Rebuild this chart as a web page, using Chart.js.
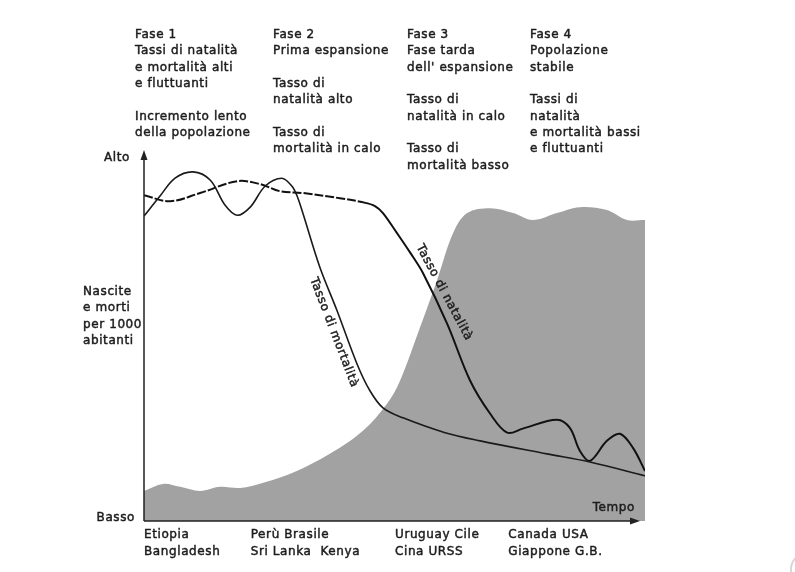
<!DOCTYPE html>
<html>
<head>
<meta charset="utf-8">
<script src="https://cdn.jsdelivr.net/npm/chart.js@4/dist/chart.umd.min.js"></script>
<style>
html,body{margin:0;padding:0;background:#fff;}
#wrap{width:795px;height:572px;position:relative;}
</style>
</head>
<body>
<div id="wrap"><canvas id="c" width="795" height="572"></canvas></div>
<script>
// ---- Data (time on 0..100, rate/population on 0..100 = Basso..Alto) ----
const deathX    = [0, 3.2, 6.2, 9.8, 13.2, 16.2, 18.6, 21.2, 24.2, 27.5, 29.5, 30.5, 31.7, 35.1, 38.5, 42.5, 45.1, 47.7, 51.7, 60.1, 67.1, 80.4, 89.0, 100];
const deathRate = [82.2, 87.6, 92.4, 94.1, 91.9, 85.1, 82.4, 84.6, 90.3, 92.4, 90.3, 87.8, 83.0, 68.4, 56.8, 42.4, 35.1, 30.5, 27.8, 23.8, 21.6, 18.1, 15.9, 12.2];

const birthX    = [0, 5.2, 11.2, 18.6, 23.2, 27.1, 31.7, 39.1, 43.7, 46.1, 47.7, 50.5, 53.1, 55.7, 60.5, 65.1, 69.1, 72.5, 75.6, 82.4, 85.0, 87.0, 89.0, 92.4, 95.0, 97.6, 100];
const birthRate = [87.8, 86.2, 88.4, 91.6, 90.8, 88.9, 88.4, 87.0, 85.9, 84.9, 83.0, 77.6, 72.4, 66.8, 53.2, 37.8, 28.9, 23.8, 24.9, 27.3, 25.1, 18.9, 16.2, 21.6, 23.5, 19.7, 13.5];

const popX      = [0, 3.8, 7.2, 11.2, 15.2, 19.2, 23.8, 30.5, 37.1, 43.7, 48.5, 51.1, 55.1, 58.5, 61.7, 64.5, 69.1, 73.7, 77.6, 82.4, 87.0, 92.4, 96.4, 100];
const population= [8.1, 10.0, 9.2, 8.1, 9.2, 8.9, 10.3, 13.5, 18.1, 24.3, 31.6, 37.8, 52.2, 64.9, 77.6, 83.0, 84.3, 83.0, 81.1, 83.0, 84.6, 83.8, 81.1, 81.1];

const phaseTexts = [
  ["Fase 1", "Tassi di natalità", "e mortalità alti", "e fluttuanti", "", "Incremento lento", "della popolazione"],
  ["Fase 2", "Prima espansione", "", "Tasso di", "natalità alto", "", "Tasso di", "mortalità in calo"],
  ["Fase 3", "Fase tarda", "dell' espansione", "", "Tasso di", "natalità in calo", "", "Tasso di", "mortalità basso"],
  ["Fase 4", "Popolazione", "stabile", "", "Tassi di", "natalità", "e mortalità bassi", "e fluttuanti"]
];
const countryGroups = [
  ["Etiopia", "Bangladesh"],
  ["Perù Brasile", "Sri Lanka  Kenya"],
  ["Uruguay Cile", "Cina URSS"],
  ["Canada USA", "Giappone G.B."]
];
const countryX = [0, 21.3, 50.1, 72.7];
const yAxisLabel = ["Nascite", "e morti", "per 1000", "abitanti"];
const highLabel = "Alto", lowLabel = "Basso", timeLabel = "Tempo";
const deathLabel = "Tasso di mortalità", birthLabel = "Tasso di natalità";

const zip = (xs, ys) => xs.map((x, i) => ({x, y: ys[i]}));

const FONT = '12px "DejaVu Sans"';
const INK = '#1c1c1c';

function txt(ctx, s, x, y, align) {
  ctx.textAlign = align || 'left';
  ctx.fillText(s, x, y);
  ctx.strokeText(s, x, y);
}

const overlay = {
  id: 'overlay',
  afterDatasetsDraw(chart) {
    const ctx = chart.ctx;
    const xs = chart.scales.x, ys = chart.scales.y;
    const ca = chart.chartArea;
    const x0 = xs.getPixelForValue(0);
    const y0 = ys.getPixelForValue(0);
    ctx.save();
    // axes
    ctx.strokeStyle = '#222';
    ctx.fillStyle = '#222';
    ctx.lineWidth = 1.5;
    ctx.beginPath();
    ctx.moveTo(x0, y0); ctx.lineTo(x0, ca.top + 8);
    ctx.moveTo(x0, y0); ctx.lineTo(ca.right - 12, y0);
    ctx.stroke();
    ctx.beginPath();
    ctx.moveTo(x0, ca.top); ctx.lineTo(x0 - 3.5, ca.top + 10); ctx.lineTo(x0 + 3.5, ca.top + 10); ctx.closePath();
    ctx.fill();
    ctx.beginPath();
    ctx.moveTo(ca.right - 5, y0); ctx.lineTo(ca.right - 15, y0 - 3.5); ctx.lineTo(ca.right - 15, y0 + 3.5); ctx.closePath();
    ctx.fill();

    ctx.fillStyle = INK;
    ctx.strokeStyle = INK;
    ctx.lineWidth = 0.45;
    ctx.font = FONT;
    ctx.textBaseline = 'middle';
    try { ctx.letterSpacing = '0.6px'; } catch (e) {}

    // phase texts
    const phaseLeft = [135, 273, 407, 530];
    const lh = 16.3;
    phaseTexts.forEach((lines, i) => {
      lines.forEach((s, j) => { if (s) txt(ctx, s, phaseLeft[i], 35 + j * lh); });
    });

    // left labels
    txt(ctx, highLabel, x0 - 14, ca.top + 8, 'right');
    txt(ctx, lowLabel, x0 - 9, y0 - 3, 'right');
    yAxisLabel.forEach((s, j) => txt(ctx, s, 83, 292 + j * 16.3));

    // time label
    txt(ctx, timeLabel, ca.right - 10, y0 - 13, 'right');

    // country groups
    countryGroups.forEach((g, i) => {
      const px = xs.getPixelForValue(countryX[i]);
      g.forEach((s, j) => txt(ctx, s, px, y0 + 14 + j * 17));
    });

    // rotated line labels
    const rot = (s, vx, vy, deg) => {
      ctx.save();
      ctx.translate(xs.getPixelForValue(vx), ys.getPixelForValue(vy));
      ctx.rotate(deg * Math.PI / 180);
      txt(ctx, s, 0, 0, 'center');
      ctx.restore();
    };
    rot(deathLabel, 37.9, 50.8, 69);
    rot(birthLabel, 59.9, 61.6, 62);

    // corner artifact
    ctx.strokeStyle = '#d8d8d8';
    ctx.lineWidth = 2;
    ctx.beginPath();
    ctx.arc(806, 569, 15, Math.PI * 0.8, Math.PI * 1.5);
    ctx.stroke();
    ctx.restore();
  }
};

new Chart(document.getElementById('c'), {
  type: 'line',
  data: {
    datasets: [
      {
        label: 'Tasso di mortalità',
        data: zip(deathX, deathRate),
        borderColor: '#1a1a1a', borderWidth: 1.6,
        pointRadius: 0, fill: false,
        tension: 0.35,
        order: 1
      },
      {
        label: 'Tasso di natalità',
        data: zip(birthX, birthRate),
        borderColor: '#111', borderWidth: 2,
        pointRadius: 0, fill: false,
        tension: 0.35,
        segment: { borderDash: c => c.p0.parsed.x < 43 ? [9, 2] : undefined },
        order: 2
      },
      {
        label: 'Popolazione',
        data: zip(popX, population),
        borderWidth: 0, borderColor: 'rgba(0,0,0,0)',
        backgroundColor: '#a2a2a2',
        pointRadius: 0, fill: 'origin',
        tension: 0.35,
        order: 3
      }
    ]
  },
  options: {
    responsive: false,
    animation: false,
    layout: { padding: { left: 144, right: 150, top: 150, bottom: 51 } },
    plugins: { legend: { display: false }, tooltip: { enabled: false } },
    scales: {
      x: { type: 'linear', min: 0, max: 100, display: false },
      y: { min: 0, max: 100, display: false }
    }
  },
  plugins: [overlay]
});
</script>
</body>
</html>
